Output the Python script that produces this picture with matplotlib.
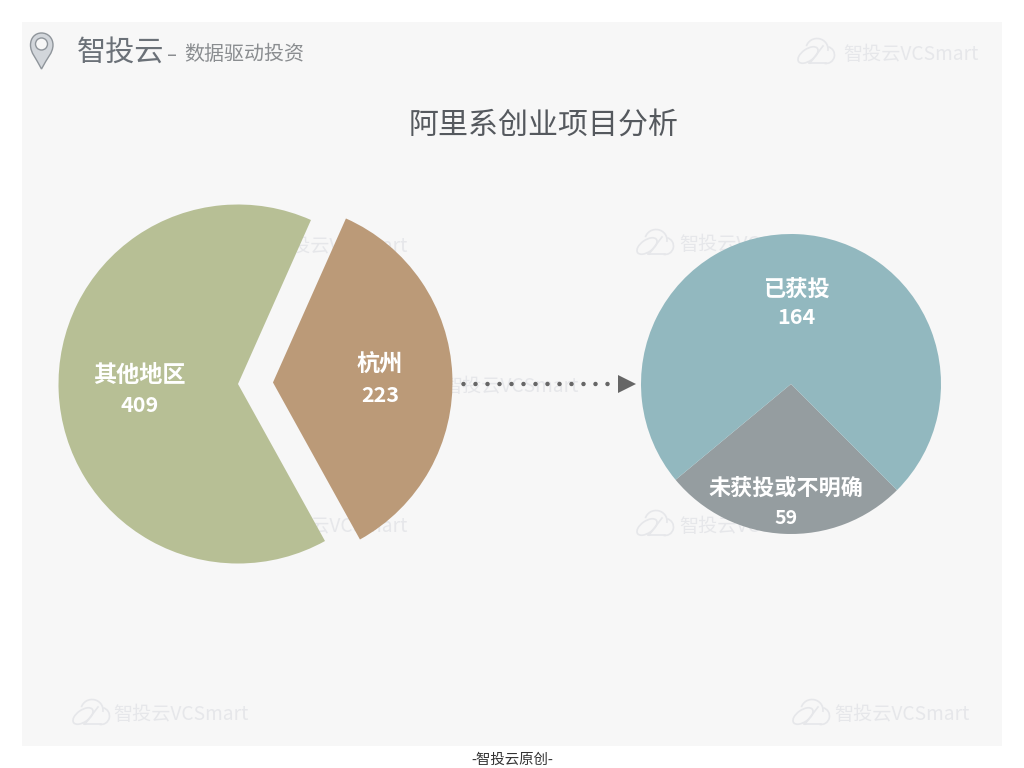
import matplotlib
matplotlib.use("Agg")
import matplotlib.pyplot as plt
from matplotlib.patches import Rectangle, Polygon, Circle, Arc, Ellipse, PathPatch
from matplotlib.path import Path

plt.rcParams['font.family'] = ['Noto Sans CJK SC', 'DejaVu Sans']

# 数据
title = "阿里系创业项目分析"
region_labels = ["杭州", "其他地区"]
region_values = [223, 409]
region_colors = ["#BB9A78", "#B7BF95"]
funding_labels = ["未获投或不明确", "已获投"]
funding_values = [59, 164]
funding_colors = ["#959DA0", "#92B8BF"]

W, H = 1024, 768
fig = plt.figure(figsize=(W / 100, H / 100), dpi=100, facecolor="white")
ax = fig.add_axes([0, 0, 1, 1])


def Y(py):
    # 像素坐标(向下)转成数据坐标(向上)
    return H - py


def watermark(x, py, offset):
    c = "#E6E7EA"
    # 云朵
    ax.add_patch(Ellipse((x + 11, Y(py + 3)), 23, 12, angle=35, fill=False, ec=c, lw=1.2, zorder=1))
    ax.add_patch(Arc((x + 20, Y(py - 3)), 22, 21, theta1=-10, theta2=165, color=c, lw=1.2, zorder=1))
    ax.add_patch(Arc((x + 29, Y(py + 3)), 17, 17, theta1=-100, theta2=75, color=c, lw=1.2, zorder=1))
    ax.plot([x + 12, x + 29], [Y(py + 11), Y(py + 11)], color=c, lw=1.2, zorder=1)
    ax.plot([x + 13, x + 26], [Y(py + 11), Y(py - 6)], color=c, lw=1.2, zorder=1)
    ax.text(x + offset, Y(py + 2), "智投云VCSmart", color=c, fontsize=13.8, ha="left", va="center", zorder=1)


# 背景面板
ax.add_patch(Rectangle((22, Y(746)), 980, 724, facecolor="#F7F7F7", edgecolor="none", zorder=0))

for wx, wy, off in [(797, 52, 46), (72, 713, 41), (792, 713, 42), (636, 243, 43), (636, 524, 43),
                    (226, 245, 46), (226, 525, 46), (397, 384, 46)]:
    watermark(wx, wy, off)

# 左边的饼图
ax.pie(region_values, colors=region_colors, startangle=2.5 - 223 / 632 * 180,
       center=(238, Y(384)), radius=179.5, explode=[35, 0], frame=False,
       wedgeprops={"linewidth": 0, "zorder": 3})
# 右边的饼图
ax.pie(funding_values, colors=funding_colors, startangle=219.7,
       center=(791, Y(384)), radius=150, frame=False,
       wedgeprops={"linewidth": 0, "zorder": 3})

ax.set_xlim(0, W)
ax.set_ylim(0, H)
ax.set_aspect("auto")
ax.axis("off")

# 箭头
for i in range(13):
    ax.add_patch(Circle((463.5 + 12 * i, Y(384)), 1.5, color="#666666", zorder=4))
ax.add_patch(Polygon([(618, Y(375)), (618, Y(393)), (636, Y(384))], closed=True,
                     facecolor="#666666", edgecolor="none", zorder=4))

# 饼图标签
lab = dict(color="white", ha="center", va="center", fontsize=16, fontweight="bold", zorder=5)
lab2 = dict(lab, fontsize=16.7)
num = dict(color="white", ha="center", va="center", fontsize=15.5, fontweight="bold", zorder=5)
ax.text(139, Y(375), region_labels[1], **lab2)
ax.text(140, Y(406), str(region_values[1]), **num)
ax.text(380, Y(365), region_labels[0], **lab2)
ax.text(380, Y(396), str(region_values[0]), **num)
ax.text(796, Y(289), funding_labels[1], **lab)
ax.text(796, Y(318), str(funding_values[1]), **num)
ax.text(786, Y(488), funding_labels[0], **dict(lab, fontsize=15.9))
ax.text(786, Y(519), str(funding_values[0]), **dict(num, fontsize=14))

# 标题和页眉
ax.text(543.5, Y(125), title, color="#55595E", fontsize=21.6, ha="center", va="center")
ax.text(77, Y(53), "智投云", color="#6B7178", fontsize=21, ha="left", va="center")
ax.text(167, Y(55), "–", color="#8A8D90", fontsize=14.4, ha="left", va="center", family="DejaVu Sans")
ax.text(184, Y(55), "数据驱动投资", color="#8A8D90", fontsize=14.4, ha="left", va="center")
ax.text(512.5, Y(760), "-智投云原创-", color="#333333", fontsize=10.4, ha="center", va="center")

# 定位图标
verts = [(41.5, Y(69)), (36, Y(58)), (30.5, Y(53)), (30.5, Y(45)),
         (30.5, Y(38)), (35, Y(33)), (41.5, Y(33)),
         (48, Y(33)), (53, Y(38)), (53, Y(45)),
         (53, Y(53)), (47, Y(58)), (41.5, Y(69)), (41.5, Y(69))]
codes = [Path.MOVETO] + [Path.CURVE4] * 12 + [Path.CLOSEPOLY]
ax.add_patch(PathPatch(Path(verts, codes), facecolor="#D2D6DB", edgecolor="#8F959B", lw=1, zorder=2))
ax.add_patch(Circle((41.5, Y(44)), 6, facecolor="#F7F7F7", edgecolor="#8F959B", lw=1, zorder=3))

fig.savefig("out.png", dpi=100, facecolor="white")
